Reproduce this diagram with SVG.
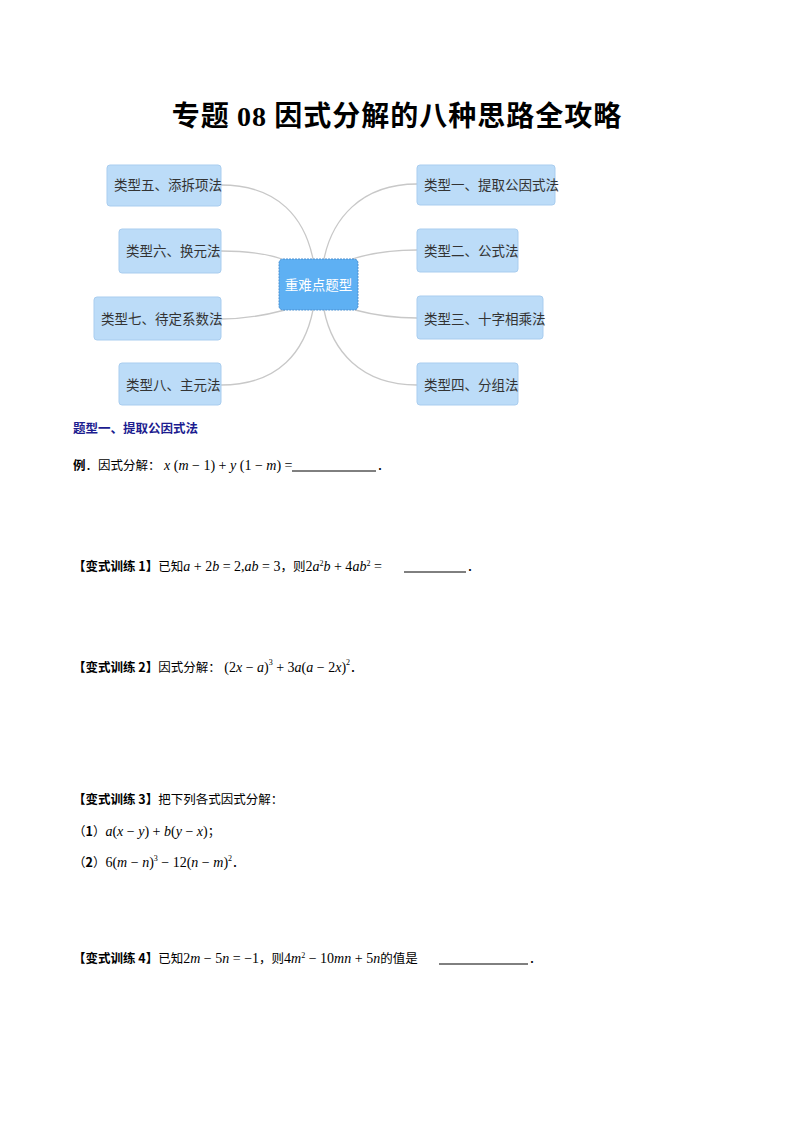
<svg xmlns="http://www.w3.org/2000/svg" width="794" height="1123" viewBox="0 0 794 1123">
<style>
.box{fill:#bcdcf8;stroke:#a9cdef;stroke-width:1}
.bt{font-family:"Noto Sans CJK SC",sans-serif;font-size:13.5px;fill:#333}
.c{fill:none;stroke:#c8c8c8;stroke-width:1.3}
.t{font-family:"Noto Sans CJK SC",sans-serif;font-size:12.5px;fill:#000}
.b{font-weight:bold}
.m{font-family:"Liberation Serif",serif;font-style:italic;font-size:14px}
.n{font-family:"Liberation Serif",serif;font-style:normal;font-size:14px}
.s{font-family:"Liberation Serif",serif;font-style:normal;font-size:8px}
.u{stroke:#000;stroke-width:1}
</style>
<rect width="794" height="1123" fill="#fff"/>
<text x="397" y="126" text-anchor="middle" font-family="Noto Sans CJK SC,sans-serif" font-size="28" font-weight="bold" letter-spacing="1">专题 <tspan font-family="Liberation Serif">08</tspan>  因式分解的八种思路全攻略</text>
<g id="connectors">
<path class="c" d="M221,185 C280,185 305,220 313,259"/>
<path class="c" d="M221,251 C250,251 268,254 282,259"/>
<path class="c" d="M221,319 C250,319 270,314 285,310"/>
<path class="c" d="M221,385 C280,385 305,350 313,310"/>
<path class="c" d="M417,184 C360,184 332,220 324,259"/>
<path class="c" d="M417,250 C390,250 368,254 352,259"/>
<path class="c" d="M417,318 C390,318 370,314 355,310"/>
<path class="c" d="M417,385 C360,385 332,350 324,310"/>
</g>
<g id="center"><rect x="279" y="259" width="79" height="51" rx="4" fill="#5eb0f3" stroke="#4a8fd0" stroke-dasharray="2,1"/><text x="318.5" y="290" text-anchor="middle" class="bt" style="fill:#fff">重难点题型</text></g>
<g id="n5"><rect class="box" x="107" y="165" width="114" height="41" rx="3"/><text class="bt" x="114" y="190">类型五、添拆项法</text></g>
<g id="n6"><rect class="box" x="119" y="229" width="102" height="44" rx="3"/><text class="bt" x="126" y="256">类型六、换元法</text></g>
<g id="n7"><rect class="box" x="94" y="297" width="127" height="43" rx="3"/><text class="bt" x="101" y="324">类型七、待定系数法</text></g>
<g id="n8"><rect class="box" x="119" y="363" width="102" height="42" rx="3"/><text class="bt" x="126" y="390">类型八、主元法</text></g>
<g id="n1"><rect class="box" x="417" y="165" width="138" height="40" rx="3"/><text class="bt" x="424" y="190">类型一、提取公因式法</text></g>
<g id="n2"><rect class="box" x="417" y="229" width="101" height="43" rx="3"/><text class="bt" x="424" y="256">类型二、公式法</text></g>
<g id="n3"><rect class="box" x="417" y="296" width="126" height="43" rx="3"/><text class="bt" x="424" y="324">类型三、十字相乘法</text></g>
<g id="n4"><rect class="box" x="417" y="363" width="101" height="42" rx="3"/><text class="bt" x="424" y="390">类型四、分组法</text></g>
<text x="73" y="433" class="t b" style="fill:#1c1c8f" font-size="12">题型一、提取公因式法</text>
<text x="73" y="470" class="t"><tspan class="b">例</tspan>．因式分解：<tspan class="m"> x</tspan><tspan class="n"> (</tspan><tspan class="m">m</tspan><tspan class="n"> − 1) + </tspan><tspan class="m">y</tspan><tspan class="n"> (1 − </tspan><tspan class="m">m</tspan><tspan class="n">) = </tspan></text>
<line class="u" x1="292" y1="471" x2="376" y2="471"/><text x="377" y="470" class="t">．</text>
<text x="73" y="571" class="t"><tspan class="b">【变式训练 1】</tspan>已知<tspan class="m">a</tspan><tspan class="n"> + 2</tspan><tspan class="m">b</tspan><tspan class="n"> = 2,</tspan><tspan class="m">ab</tspan><tspan class="n"> = 3</tspan>，则<tspan class="n">2</tspan><tspan class="m">a</tspan><tspan class="s" dy="-5">2</tspan><tspan class="m" dy="5">b</tspan><tspan class="n"> + 4</tspan><tspan class="m">ab</tspan><tspan class="s" dy="-5">2</tspan><tspan class="n" dy="5"> = </tspan></text>
<line class="u" x1="404" y1="572" x2="466" y2="572"/><text x="467" y="571" class="t">．</text>
<text x="73" y="672" class="t"><tspan class="b">【变式训练 2】</tspan>因式分解：<tspan class="n"> (2</tspan><tspan class="m">x</tspan><tspan class="n"> − </tspan><tspan class="m">a</tspan><tspan class="n">)</tspan><tspan class="s" dy="-7">3</tspan><tspan class="n" dy="7"> + 3</tspan><tspan class="m">a</tspan><tspan class="n">(</tspan><tspan class="m">a</tspan><tspan class="n"> − 2</tspan><tspan class="m">x</tspan><tspan class="n">)</tspan><tspan class="s" dy="-7">2</tspan><tspan dy="7">．</tspan></text>
<text x="73" y="804" class="t"><tspan class="b">【变式训练 3】</tspan>把下列各式因式分解：</text>
<text x="73" y="836" class="t">（<tspan class="b">1</tspan>）<tspan class="m">a</tspan><tspan class="n">(</tspan><tspan class="m">x</tspan><tspan class="n"> − </tspan><tspan class="m">y</tspan><tspan class="n">) + </tspan><tspan class="m">b</tspan><tspan class="n">(</tspan><tspan class="m">y</tspan><tspan class="n"> − </tspan><tspan class="m">x</tspan><tspan class="n">)</tspan>；</text>
<text x="73" y="867" class="t">（<tspan class="b">2</tspan>）<tspan class="n">6(</tspan><tspan class="m">m</tspan><tspan class="n"> − </tspan><tspan class="m">n</tspan><tspan class="n">)</tspan><tspan class="s" dy="-6">3</tspan><tspan class="n" dy="6"> − 12(</tspan><tspan class="m">n</tspan><tspan class="n"> − </tspan><tspan class="m">m</tspan><tspan class="n">)</tspan><tspan class="s" dy="-6">2</tspan><tspan dy="6">．</tspan></text>
<text x="73" y="963" class="t"><tspan class="b">【变式训练 4】</tspan>已知<tspan class="n">2</tspan><tspan class="m">m</tspan><tspan class="n"> − 5</tspan><tspan class="m">n</tspan><tspan class="n"> = −1</tspan>，则<tspan class="n">4</tspan><tspan class="m">m</tspan><tspan class="s" dy="-5">2</tspan><tspan class="n" dy="5"> − 10</tspan><tspan class="m">mn</tspan><tspan class="n"> + 5</tspan><tspan class="m">n</tspan>的值是</text>
<line class="u" x1="439" y1="964" x2="528" y2="964"/><text x="529" y="963" class="t">．</text>
</svg>
